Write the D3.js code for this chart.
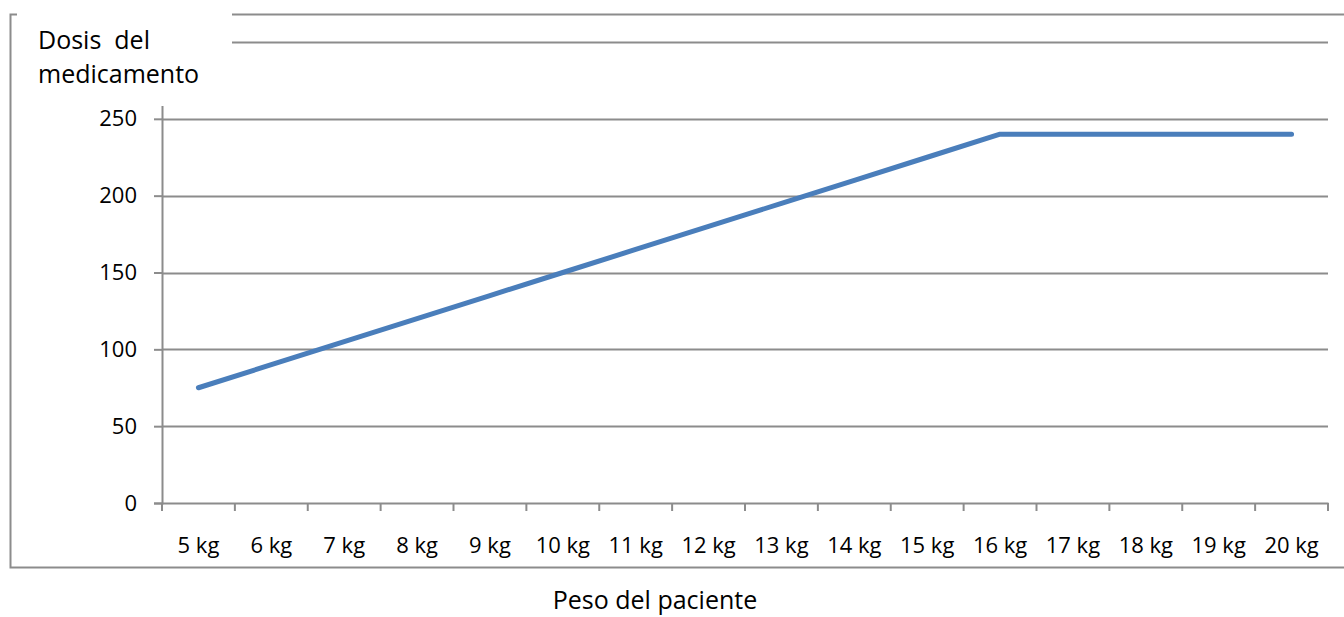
<!DOCTYPE html>
<html>
<head>
<meta charset="utf-8">
<script src="https://cdn.jsdelivr.net/npm/d3@7/dist/d3.min.js"></script>
<style>
  html, body { margin: 0; padding: 0; background: #fff; }
  svg { display: block; font-family: "Open Sans", Lato, "Noto Sans", sans-serif; }
</style>
</head>
<body>
<svg id="chart" width="1344" height="617"></svg>
<script>
// Weight categories (x axis)
const categories = ["5 kg", "6 kg", "7 kg", "8 kg", "9 kg", "10 kg", "11 kg", "12 kg",
  "13 kg", "14 kg", "15 kg", "16 kg", "17 kg", "18 kg", "19 kg", "20 kg"];
// Dose for each weight
const doses = [75, 90, 105, 120, 135, 150, 165, 180, 195, 210, 225, 240, 240, 240, 240, 240];
// Value axis ticks
const yTicks = [0, 50, 100, 150, 200, 250, 300];
const yLabels = ["0", "50", "100", "150", "200", "250"];
const yTitle = ["Dosis  del", "medicamento"];
const xTitle = "Peso del paciente";

const svg = d3.select("#chart");
const gridColor = "#8c8c8c";
const textColor = "#000";
const font = "'Open Sans', Lato, sans-serif";
const tickFont = 22;
const titleFont = 25;

const plot = { left: 162, right: 1328, top: 42, bottom: 503 };

const x = d3.scaleBand().domain(categories).range([plot.left, plot.right]);
const y = d3.scaleLinear().domain([0, 300]).range([plot.bottom, plot.top]);

// Outer frame
svg.append("rect")
  .attr("x", 10.5).attr("y", 14.5)
  .attr("width", 1344).attr("height", 553)
  .attr("fill", "none").attr("stroke", gridColor).attr("stroke-width", 2);

// Horizontal gridlines
svg.append("g")
  .selectAll("line")
  .data(yTicks.filter(d => d > 0))
  .join("line")
  .attr("x1", plot.left).attr("x2", plot.right)
  .attr("y1", d => Math.round(y(d)) + 0.5).attr("y2", d => Math.round(y(d)) + 0.5)
  .attr("stroke", gridColor).attr("stroke-width", 2);

// Value axis
const yAxis = svg.append("g")
  .attr("transform", `translate(${plot.left},0)`)
  .call(d3.axisLeft(y).tickValues(yTicks).tickSize(8).tickPadding(17)
    .tickFormat(d => yLabels.includes(String(d)) ? String(d) : ""));
yAxis.select(".domain").attr("stroke", gridColor).attr("stroke-width", 2);
yAxis.selectAll(".tick line").attr("stroke", gridColor).attr("stroke-width", 2);
yAxis.selectAll(".tick text")
  .attr("font-size", tickFont).attr("fill", textColor)
  .attr("font-family", font);

// Category axis
const xAxis = svg.append("g")
  .attr("transform", `translate(0,${plot.bottom})`)
  .call(d3.axisBottom(x).tickSize(0).tickPadding(34));
xAxis.select(".domain").attr("stroke", gridColor).attr("stroke-width", 2);
xAxis.selectAll(".tick text")
  .attr("font-size", tickFont).attr("fill", textColor)
  .attr("font-family", font);
// Tick marks between categories
const bounds = categories.map(c => x(c)).concat([x(categories[categories.length - 1]) + x.bandwidth()]);
xAxis.append("g").selectAll("line")
  .data(bounds)
  .join("line")
  .attr("x1", d => d).attr("x2", d => d)
  .attr("y1", 0).attr("y2", 8)
  .attr("stroke", gridColor).attr("stroke-width", 2);

// Title box covering the top-left corner
svg.append("rect")
  .attr("x", 17).attr("y", 0)
  .attr("width", 215).attr("height", 106)
  .attr("fill", "#fff");

svg.append("text")
  .attr("x", 38).attr("y", 0)
  .attr("font-size", titleFont).attr("fill", textColor)
  .attr("font-family", font)
  .selectAll("tspan")
  .data(yTitle)
  .join("tspan")
  .attr("x", 38)
  .attr("y", (d, i) => 49 + i * 34)
  .attr("xml:space", "preserve")
  .style("white-space", "pre")
  .text(d => d);

svg.append("text")
  .attr("x", 655).attr("y", 609)
  .attr("text-anchor", "middle")
  .attr("font-size", titleFont).attr("fill", textColor)
  .attr("font-family", font)
  .text(xTitle);

// Dose line
const line = d3.line()
  .x((d, i) => x(categories[i]) + x.bandwidth() / 2)
  .y(d => y(d));

svg.append("path")
  .datum(doses)
  .attr("d", line)
  .attr("fill", "none")
  .attr("stroke", "#4a7ebb")
  .attr("stroke-width", 5)
  .attr("stroke-linecap", "round")
  .attr("stroke-linejoin", "round");
</script>
</body>
</html>
